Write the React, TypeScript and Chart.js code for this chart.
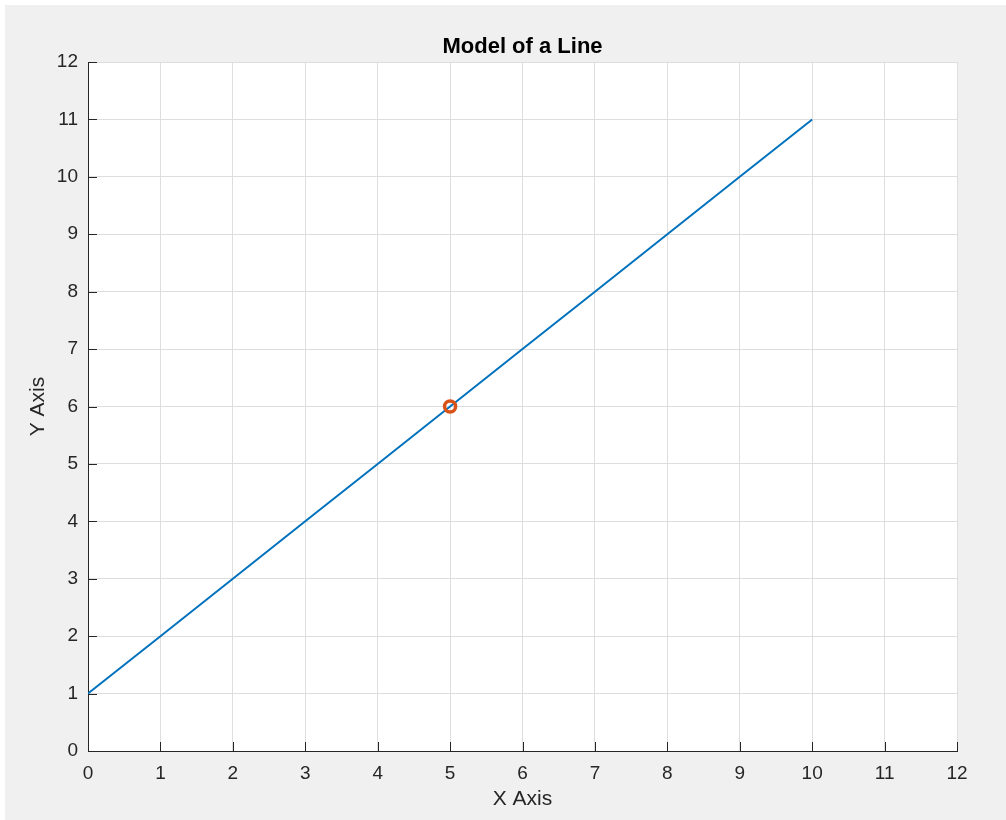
import React, { useEffect, useRef } from "react";
import { Chart, registerables } from "chart.js";

Chart.register(...registerables);

const lineX = [0, 1, 2, 3, 4, 5, 6, 7, 8, 9, 10];
const lineY = [1, 2, 3, 4, 5, 6, 7, 8, 9, 10, 11];
const markerX = [5];
const markerY = [6];
const tickValues = [0, 1, 2, 3, 4, 5, 6, 7, 8, 9, 10, 11, 12];

const W = 1006;
const H = 820;
const FONT = "'Liberation Sans', Arial, Helvetica, sans-serif";
const AXIS = "#262626";
const GRID = "#dedede";

const bgPlugin = {
  id: "matlabBg",
  beforeDraw(chart: any) {
    const { ctx, chartArea } = chart;
    ctx.save();
    ctx.fillStyle = "#ffffff";
    ctx.fillRect(0, 0, W, H);
    ctx.fillStyle = "#f0f0f0";
    ctx.fillRect(5, 5, W - 5, H - 5);
    ctx.fillStyle = "#ffffff";
    ctx.fillRect(chartArea.left, chartArea.top, chartArea.right - chartArea.left, chartArea.bottom - chartArea.top);
    ctx.restore();
  },
  afterDraw(chart: any) {
    const { ctx, chartArea, scales } = chart;
    ctx.save();
    ctx.strokeStyle = AXIS;
    ctx.lineWidth = 1;
    ctx.beginPath();
    tickValues.forEach((v) => {
      const px = Math.round(scales.x.getPixelForValue(v)) + 0.5;
      ctx.moveTo(px, chartArea.bottom);
      ctx.lineTo(px, chartArea.bottom - 9);
      const py = Math.round(scales.y.getPixelForValue(v)) + 0.5;
      ctx.moveTo(chartArea.left, py);
      ctx.lineTo(chartArea.left + 9, py);
    });
    ctx.stroke();
    ctx.restore();
  },
};

export default function App() {
  const ref = useRef<HTMLCanvasElement>(null);
  useEffect(() => {
    if (!ref.current) return;
    const chart = new Chart(ref.current, {
      type: "line",
      data: {
        datasets: [
          {
            label: "marker",
            data: markerX.map((x, i) => ({ x, y: markerY[i] })),
            showLine: false,
            pointRadius: 5.5,
            pointStyle: "circle",
            pointBorderWidth: 3.5,
            pointBorderColor: "#D95319",
            pointBackgroundColor: "rgba(0,0,0,0)",
            borderColor: "#D95319",
            order: 0,
          },
          {
            label: "line",
            data: lineX.map((x, i) => ({ x, y: lineY[i] })),
            borderColor: "#0072BD",
            borderWidth: 2,
            pointRadius: 0,
            tension: 0,
            order: 1,
          },
        ],
      },
      options: {
        animation: false,
        responsive: false,
        devicePixelRatio: 1,
        layout: { padding: { left: 0, right: 49, top: 0, bottom: 0 } },
        plugins: {
          legend: { display: false },
          tooltip: { enabled: false },
          title: {
            display: true,
            text: "Model of a Line",
            fullSize: false,
            color: "#000000",
            font: { family: FONT, size: 22, weight: "bold" },
            padding: { top: 34, bottom: 1.6 },
          },
        },
        scales: {
          x: {
            type: "linear",
            min: 0,
            max: 12,
            afterFit(scale: any) {
              scale.height = 69;
            },
            afterBuildTicks(scale: any) {
              scale.ticks = tickValues.map((v) => ({ value: v }));
            },
            ticks: {
              stepSize: 1,
              color: AXIS,
              padding: 11,
              maxRotation: 0,
              font: { family: FONT, size: 19 },
            },
            grid: { color: GRID, drawTicks: false, lineWidth: 1 },
            border: { display: true, color: AXIS, width: 1 },
            title: {
              display: true,
              text: "X Axis",
              color: AXIS,
              font: { family: FONT, size: 21 },
              padding: { top: 0, bottom: 8 },
            },
          },
          y: {
            type: "linear",
            min: 0,
            max: 12,
            afterFit(scale: any) {
              scale.width = 88;
            },
            afterBuildTicks(scale: any) {
              scale.ticks = tickValues.map((v) => ({ value: v }));
            },
            ticks: {
              stepSize: 1,
              color: AXIS,
              padding: 10,
              font: { family: FONT, size: 19 },
            },
            grid: { color: GRID, drawTicks: false, lineWidth: 1 },
            border: { display: true, color: AXIS, width: 1 },
            title: {
              display: true,
              text: "Y Axis",
              color: AXIS,
              font: { family: FONT, size: 21 },
              padding: { top: 26, bottom: 0 },
            },
          },
        },
      },
      plugins: [bgPlugin],
    } as any);
    return () => chart.destroy();
  }, []);
  return (
    <div style={{ position: "absolute", left: 0, top: 0, width: W, height: H }}>
      <canvas ref={ref} width={W} height={H} style={{ width: W, height: H, display: "block" }} />
    </div>
  );
}
